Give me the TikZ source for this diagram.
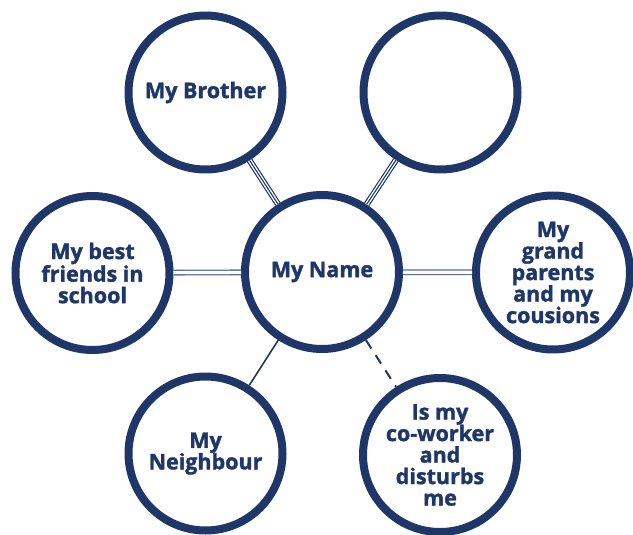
\documentclass[tikz,border=0pt]{standalone}
\usepackage{fontspec}
\setmainfont{Open Sans}[BoldFeatures={FakeBold=1.6}]
\usepackage{tikz}
\definecolor{navy}{HTML}{1F3768}
\definecolor{steel}{HTML}{5A6B95}
\tikzset{
  bubble/.style={circle, draw=navy, line width=8pt, fill=white, minimum size=154pt, inner sep=0pt,
    text=navy, align=center, font=\fontsize{21.5}{21.5}\selectfont\bfseries},
  twoline/.style={draw=steel, line width=1.3pt, double=white, double distance=3.2pt},
  threeline/.style={draw=navy, line width=6.2pt},
  threegap/.style={draw=white, line width=3.8pt},
  threemid/.style={draw=navy, line width=1.1pt},
  plainline/.style={draw=navy, line width=1.6pt},
  dashline/.style={draw=navy, line width=2pt, dash pattern=on 10pt off 8pt}
}
\begin{document}
\begin{tikzpicture}[x=1pt, y=-1pt, line join=round]
\useasboundingbox (0,0) rectangle (633,535);
\node[bubble] (name) at (322,272) {My Name};
\node[bubble] (brother) at (205.5,92.5) {My Brother};
\node[bubble] (empty) at (440.5,92.5) {};
\node[bubble] (friends) at (92.5,273) {My best\\friends in\\school};
\node[bubble] (grand) at (553,272.5) {My\\grand\\parents\\and my\\cousions};
\node[bubble] (neighbour) at (205.5,453.5) {My\\Neighbour};
\node[bubble] (cowork) at (440,455) {Is my\\co-worker\\and\\disturbs\\me};
\foreach \b in {brother, empty} {
  \draw[threeline] (name) -- (\b);
  \draw[threegap] (name) -- (\b);
  \draw[threemid] (name) -- (\b);
}
\draw[twoline] (name) -- (friends);
\draw[twoline] (name) -- (grand);
\draw[plainline] (name) -- (neighbour);
\draw[dashline] (name) -- (cowork);
\end{tikzpicture}
\end{document}
